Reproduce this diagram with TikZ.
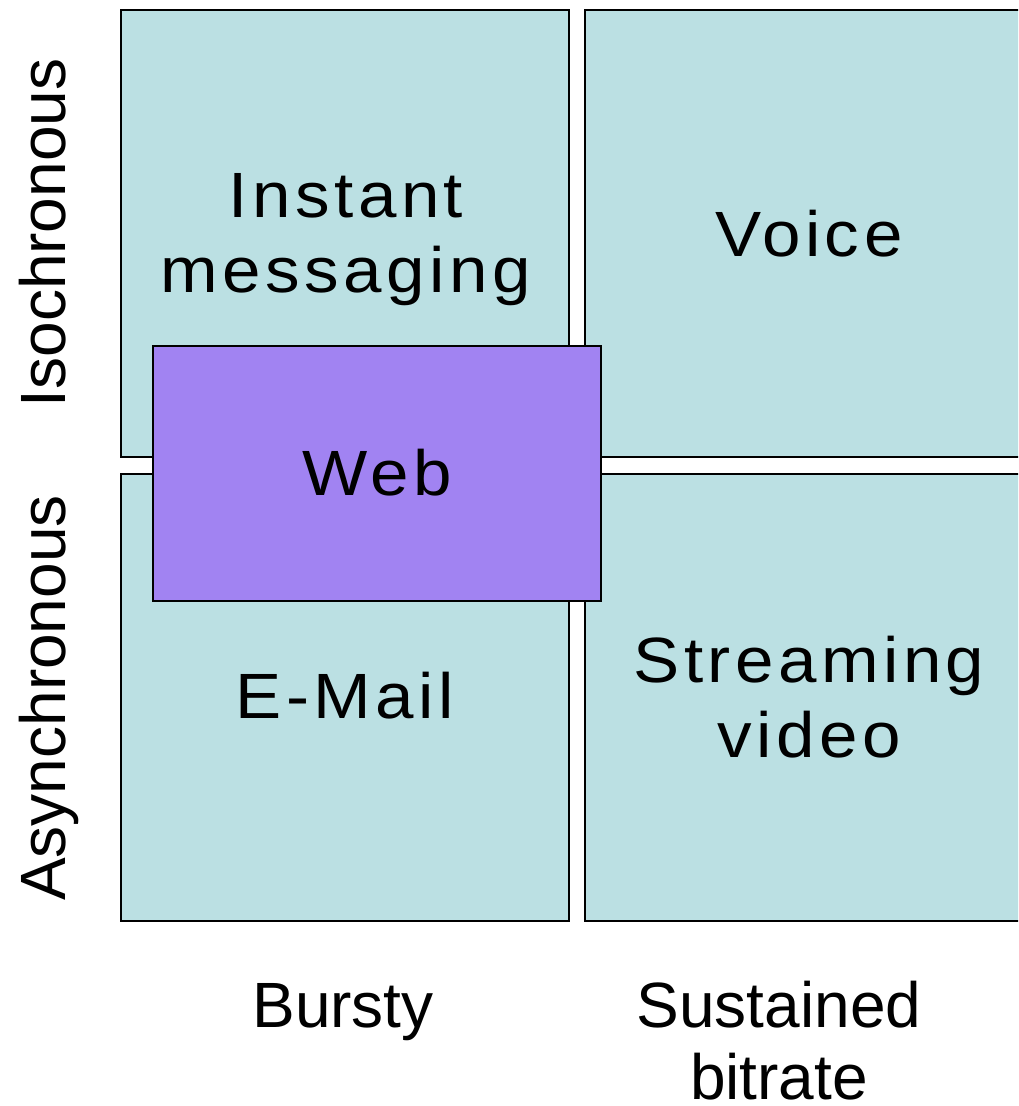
\documentclass[tikz,border=0pt]{standalone}
\usepackage{fontspec}
\setmainfont{Liberation Sans}
\newfontfamily\widesans[FakeStretch=1.08,LetterSpace=7]{Liberation Sans}
\definecolor{cellfill}{RGB}{187,224,227}
\definecolor{webfill}{RGB}{161,131,242}
\begin{document}
\begin{tikzpicture}[x=0.75pt,y=-0.75pt,
  cell/.style={draw=black,line width=1.5pt,fill=cellfill,rectangle,
    minimum width=448*0.75pt,minimum height=447*0.75pt,inner sep=0pt},
  webcell/.style={draw=black,line width=1.5pt,fill=webfill,rectangle,
    minimum width=448*0.75pt,minimum height=255*0.75pt,inner sep=0pt},
  celltext/.style={font=\widesans\fontsize{48}{56}\selectfont,anchor=base,inner sep=0pt},
  axistext/.style={font=\fontsize{48}{54}\selectfont,anchor=base,inner sep=0pt}]
\clip (0,0) rectangle (1018,1106);
\fill[white] (0,0) rectangle (1018,1106);
% quadrant cells
\node[cell] (tl) at (345,233.5) {};
\node[cell] (tr) at (809,233.5) {};
\node[cell] (bl) at (345,697.5) {};
\node[cell] (br) at (809,697.5) {};
% overlapping web cell
\node[webcell] (web) at (377,473.5) {};
% cell labels
\node[celltext] (im1) at (346,217) {Instant};
\node[celltext] (im2) at (346,292) {messaging};
\node[celltext] (voice) at (809,256) {Voice};
\node[celltext] (webtxt) at (377,495) {Web};
\node[celltext] (mail) at (345,718) {E-Mail};
\node[celltext] (sv1) at (809,682) {Streaming};
\node[celltext] (sv2) at (809,757) {video};
% axis labels
\node[axistext] (bursty) at (343,1027) {Bursty};
\node[axistext] (sus1) at (779,1027) {Sustained};
\node[axistext] (sus2) at (779,1099) {bitrate};
\node[axistext,rotate=90] (iso) at (65,233) {Isochronous};
\node[axistext,rotate=90] (async) at (65,698) {Asynchronous};
\end{tikzpicture}
\end{document}
